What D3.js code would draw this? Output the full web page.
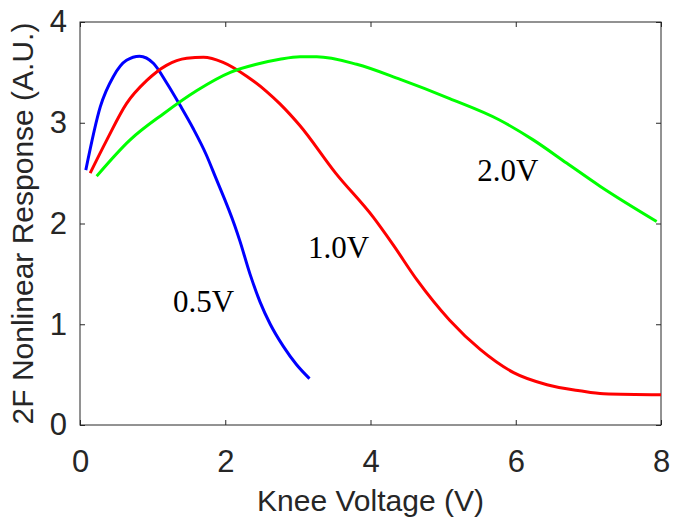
<!DOCTYPE html>
<html>
<head>
<meta charset="utf-8">
<script src="https://d3js.org/d3.v7.min.js"></script>
<style>
  body { margin: 0; background: #fff; }
  svg { display: block; }
</style>
</head>
<body>
<div id="chart"></div>
<script>
// curves: knee voltage (V) vs 2F response (A.U.)
var blueX = [0.08, 0.28, 0.46, 0.64, 0.82, 1.01, 1.19, 1.38, 1.56, 1.74, 1.86, 2.13, 2.20, 2.34, 2.48, 2.62, 2.80, 2.98, 3.16];
var blueY = [2.53, 3.16, 3.46, 3.62, 3.66, 3.59, 3.40, 3.17, 2.94, 2.68, 2.47, 1.98, 1.83, 1.50, 1.22, 1.00, 0.78, 0.60, 0.46];

var redX = [0.14, 0.37, 0.64, 0.92, 1.19, 1.47, 1.70, 1.97, 2.30, 2.57, 2.75, 3.03, 3.52, 4.04, 4.31, 4.64, 5.09, 5.51, 5.97, 6.43, 6.88, 7.21, 8.00];
var redY = [2.50, 2.83, 3.19, 3.42, 3.57, 3.64, 3.65, 3.60, 3.46, 3.31, 3.19, 2.97, 2.50, 2.06, 1.79, 1.44, 1.04, 0.75, 0.52, 0.40, 0.34, 0.31, 0.30];

var greenX = [0.23, 0.69, 1.15, 1.61, 2.07, 2.43, 2.75, 3.03, 3.26, 3.81, 4.41, 5.09, 5.77, 6.24, 6.70, 7.16, 7.94];
var greenY = [2.47, 2.83, 3.09, 3.32, 3.50, 3.58, 3.63, 3.655, 3.655, 3.58, 3.43, 3.24, 3.03, 2.83, 2.60, 2.37, 2.02];

var seriesNames = ["0.5V", "1.0V", "2.0V"];
var seriesColors = ["#0000ff", "#ff0000", "#00ff00"];
// where each text label sits, in data units (left edge, baseline)
var labelX = [1.28, 3.14, 5.47];
var labelY = [1.12, 1.66, 2.42];

var xTicks = [0, 2, 4, 6, 8];
var yTicks = [0, 1, 2, 3, 4];

var W = 681, H = 520;
var margin = { top: 22, right: 20, bottom: 95, left: 80 };
var width = W - margin.left - margin.right,
    height = H - margin.top - margin.bottom;

var svg = d3.select("#chart").append("svg")
    .attr("width", W)
    .attr("height", H);

var g = svg.append("g")
    .attr("transform", "translate(" + margin.left + "," + margin.top + ")");

var x = d3.scaleLinear().domain([0, 8]).range([0, width]);
var y = d3.scaleLinear().domain([0, 4]).range([height, 0]);

var axisColor = "#262626";
var font = "'Liberation Sans', Arial, Helvetica, sans-serif";
var fmt = d3.format("d");

// inward ticks on all four sides, labels only bottom/left
g.append("g")
    .attr("transform", "translate(0," + height + ")")
    .call(d3.axisBottom(x).tickValues(xTicks).tickSizeInner(-5).tickSizeOuter(0).tickPadding(25).tickFormat(fmt));
g.append("g")
    .call(d3.axisTop(x).tickValues(xTicks).tickSizeInner(-5).tickSizeOuter(0).tickFormat(""));
g.append("g")
    .call(d3.axisLeft(y).tickValues(yTicks).tickSizeInner(-5).tickSizeOuter(0).tickPadding(13).tickFormat(fmt));
g.append("g")
    .attr("transform", "translate(" + width + ",0)")
    .call(d3.axisRight(y).tickValues(yTicks).tickSizeInner(-5).tickSizeOuter(0).tickFormat(""));

g.selectAll(".domain").remove();
g.selectAll(".tick line").attr("stroke", axisColor);
g.selectAll(".tick text")
    .attr("fill", axisColor)
    .style("font-family", font)
    .style("font-size", "31px");

// box
g.append("rect")
    .attr("x", 0)
    .attr("y", 0)
    .attr("width", width)
    .attr("height", height)
    .attr("fill", "none")
    .attr("stroke", axisColor)
    .attr("stroke-width", 1);

var line = d3.line()
    .x(function (d) { return x(d[0]); })
    .y(function (d) { return y(d[1]); })
    .curve(d3.curveMonotoneX);

var allX = [blueX, redX, greenX];
var allY = [blueY, redY, greenY];

allX.forEach(function (xs, i) {
    var pts = xs.map(function (v, j) { return [v, allY[i][j]]; });
    g.append("path")
        .datum(pts)
        .attr("fill", "none")
        .attr("stroke", seriesColors[i])
        .attr("stroke-width", 3)
        .attr("stroke-linejoin", "round")
        .attr("d", line);
});

g.selectAll(".curve-label")
    .data(seriesNames)
    .enter()
    .append("text")
    .attr("class", "curve-label")
    .attr("x", function (d, i) { return x(labelX[i]); })
    .attr("y", function (d, i) { return y(labelY[i]); })
    .style("font-family", "'Liberation Serif', 'Times New Roman', serif")
    .style("font-size", "31px")
    .attr("fill", "#000")
    .text(function (d) { return d; });

// axis titles
svg.append("text")
    .attr("x", margin.left + width / 2)
    .attr("y", 511)
    .attr("text-anchor", "middle")
    .attr("fill", axisColor)
    .style("font-family", font)
    .style("font-size", "30px")
    .text("Knee Voltage (V)");

svg.append("text")
    .attr("transform", "translate(33," + (margin.top + height / 2) + ") rotate(-90)")
    .attr("text-anchor", "middle")
    .attr("fill", axisColor)
    .style("font-family", font)
    .style("font-size", "30px")
    .text("2F Nonlinear Response (A.U.)");
</script>
</body>
</html>
